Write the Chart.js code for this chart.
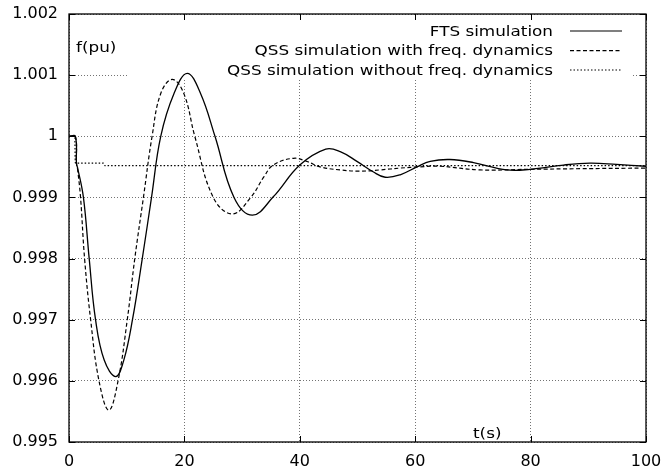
<!DOCTYPE html>
<html>
<head>
<meta charset="utf-8">
<script src="https://cdn.jsdelivr.net/npm/chart.js@4.4.0/dist/chart.umd.min.js"></script>
<style>
  html, body { margin: 0; padding: 0; background: #fff; }
  canvas { display: block; }
</style>
</head>
<body>
<canvas id="freqChart" width="661" height="473"></canvas>
<script>
// values (t in s, f in pu)
const ftsTime = [0, 1.1, 1.3, 1.5, 2.5, 3.5, 4.6, 6.1, 8.1, 9.5, 11.0, 12.7, 14.3, 15.9, 18.2, 20.5,
    22.8, 25.3, 28.6, 31.8, 35.4, 40.0, 44.5, 47.0, 49.9, 52.7, 54.8, 57.4, 60.3, 62.6, 66.0,
    70.1, 75.9, 79.9, 85.7, 90.3, 94.9, 100];
const ftsFreq = [1.0, 1.0, 0.99955, 0.99948, 0.999, 0.998, 0.997, 0.99634, 0.99607, 0.99634, 0.997,
    0.998, 0.999, 1.0, 1.00070, 1.00103, 1.00070, 1.0, 0.999, 0.99871, 0.99901, 0.99953, 0.99979,
    0.99975, 0.99959, 0.99942, 0.99933, 0.99937, 0.99950, 0.99959, 0.99962, 0.99957, 0.99945,
    0.99946, 0.99953, 0.99956, 0.99954, 0.99951];

const qssTime = [0, 1.1, 1.3, 1.5, 2.0, 2.7, 3.75, 5.2, 6.9, 8.5, 10.1, 11.4, 12.9, 14.4, 15.9, 17.9,
    19.9, 21.8, 25.0, 28.3, 31.5, 33.8, 35.4, 38.9, 41.2, 43.5, 47.0, 50.4, 53.9, 57.4, 60.8,
    64.3, 71.2, 79.9, 88.6, 100];
const qssFreq = [1.0, 1.0, 0.99955, 0.99945, 0.999, 0.998, 0.997, 0.996, 0.99552, 0.996, 0.997, 0.998,
    0.999, 1.0, 1.0007, 1.00093, 1.0007, 1.0, 0.999, 0.99873, 0.999, 0.99934, 0.99953, 0.99964,
    0.99959, 0.99950, 0.99945, 0.99943, 0.99945, 0.99948, 0.99950, 0.99951, 0.99945, 0.99946,
    0.99947, 0.99948];

const flatTime = [0, 1.0, 1.1, 6.0, 6.2, 100];
const flatFreq = [1.0, 1.0, 0.99956, 0.99956, 0.99952, 0.99952];

const seriesLabels = [
    "FTS simulation",
    "QSS simulation with freq. dynamics",
    "QSS simulation without freq. dynamics"
];
const seriesDash = [[], [4, 2.5], [1.5, 2]];

const xTitle = "t(s)";
const yTitle = "f(pu)";

function toPoints(xs, ys) {
    return xs.map((x, i) => ({ x: x, y: ys[i] }));
}

const FONT = "DejaVu Sans";

// gnuplot-like frame, inner ticks, blank key area, key and axis titles
const gnuplotLook = {
    id: "gnuplotLook",
    beforeDatasetsDraw(chart) {
        const ctx = chart.ctx;
        const a = chart.chartArea;
        ctx.save();
        ctx.fillStyle = "#fff";
        ctx.fillRect(127, a.top + 1, 633 - 127, 79 - a.top);
        ctx.restore();
    },
    afterDatasetsDraw(chart) {
        const ctx = chart.ctx;
        const a = chart.chartArea;
        const xs = chart.scales.x;
        const ys = chart.scales.y;
        ctx.save();
        ctx.strokeStyle = "#000";
        ctx.lineWidth = 1.3;
        ctx.setLineDash([]);
        ctx.strokeRect(a.left, a.top, a.right - a.left, a.bottom - a.top);
        ctx.lineWidth = 1;
        ctx.beginPath();
        ys.ticks.forEach(t => {
            const py = Math.round(ys.getPixelForValue(t.value)) + 0.5;
            ctx.moveTo(a.left, py); ctx.lineTo(a.left + 6, py);
            ctx.moveTo(a.right, py); ctx.lineTo(a.right - 6, py);
        });
        xs.ticks.forEach(t => {
            const px = Math.round(xs.getPixelForValue(t.value)) + 0.5;
            ctx.moveTo(px, a.bottom); ctx.lineTo(px, a.bottom - 6);
            ctx.moveTo(px, a.top); ctx.lineTo(px, a.top + 6);
        });
        ctx.stroke();
        ctx.restore();
    },
    afterDraw(chart) {
        const ctx = chart.ctx;
        ctx.save();
        ctx.fillStyle = "#000";
        ctx.font = "14px '" + FONT + "'";
        ctx.textBaseline = "alphabetic";

        // key
        const baselines = [35.7, 55.2, 74.5];
        const lineYs = [31, 50.7, 70];
        chart.data.datasets.forEach((ds, i) => {
            ctx.save();
            ctx.translate(553, baselines[i]);
            ctx.scale(1.2, 1);
            ctx.textAlign = "right";
            ctx.fillText(ds.label, 0, 0);
            ctx.restore();

            ctx.save();
            ctx.strokeStyle = "#000";
            ctx.lineWidth = 1.2;
            ctx.setLineDash(seriesDash[i]);
            ctx.beginPath();
            ctx.moveTo(570, lineYs[i]);
            ctx.lineTo(622, lineYs[i]);
            ctx.stroke();
            ctx.restore();
        });

        // axis titles sit inside the plot
        ctx.textAlign = "left";
        ctx.save();
        ctx.translate(76, 52);
        ctx.scale(1.2, 1);
        ctx.fillText(yTitle, 0, 0);
        ctx.restore();

        ctx.save();
        ctx.translate(473, 438);
        ctx.scale(1.2, 1);
        ctx.fillText(xTitle, 0, 0);
        ctx.restore();

        ctx.restore();
    }
};

const gridStyle = {
    color: "rgba(0,0,0,0.55)",
    lineWidth: 1,
    drawTicks: false
};

function lineSet(i, xs, ys, width, mono) {
    const ds = {
        label: seriesLabels[i],
        data: toPoints(xs, ys),
        borderColor: "#000",
        borderWidth: width,
        borderDash: seriesDash[i],
        tension: 0.4,
        pointRadius: 0
    };
    if (mono) ds.cubicInterpolationMode = "monotone";
    return ds;
}

new Chart(document.getElementById("freqChart"), {
    type: "line",
    data: {
        datasets: [
            lineSet(0, ftsTime, ftsFreq, 1.3, false),
            lineSet(1, qssTime, qssFreq, 1.2, false),
            lineSet(2, flatTime, flatFreq, 1.2, true)
        ]
    },
    options: {
        responsive: false,
        animation: false,
        devicePixelRatio: 1,
        layout: { padding: { top: 14, right: 15, left: 0, bottom: 0 } },
        plugins: {
            legend: { display: false },
            tooltip: { enabled: false }
        },
        scales: {
            x: {
                type: "linear",
                min: 0,
                max: 100,
                grid: gridStyle,
                border: { display: false, dash: [1, 2] },
                ticks: {
                    stepSize: 20,
                    padding: 10,
                    color: "#000",
                    maxRotation: 0,
                    font: { family: FONT, size: 16 }
                },
                afterFit(scale) {
                    scale.height = 31;
                    scale.paddingLeft = 0;
                    scale.paddingRight = 0;
                }
            },
            y: {
                type: "linear",
                min: 0.995,
                max: 1.002,
                grid: gridStyle,
                border: { display: false, dash: [1, 2] },
                ticks: {
                    stepSize: 0.001,
                    padding: 11,
                    color: "#000",
                    font: { family: FONT, size: 16 },
                    callback: v => String(Number(v.toFixed(3)))
                },
                afterFit(scale) {
                    scale.width = 69;
                    scale.paddingTop = 0;
                    scale.paddingBottom = 0;
                }
            }
        }
    },
    plugins: [gnuplotLook]
});
</script>
</body>
</html>
